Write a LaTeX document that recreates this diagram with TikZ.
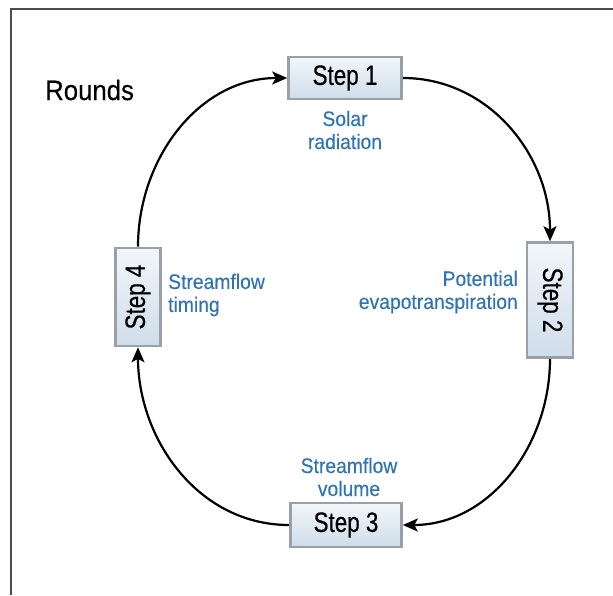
\documentclass[tikz,border=0pt]{standalone}
\usepackage{fontspec}
\setmainfont{Liberation Sans}
\newfontfamily\stepfont[FakeStretch=0.8,FakeBold=0.4]{Liberation Sans}
\newfontfamily\lblfont[FakeStretch=0.92,FakeBold=0.3]{Liberation Sans}
\usetikzlibrary{arrows.meta}
\definecolor{lblblue}{HTML}{2F74B5}
\definecolor{boxtop}{HTML}{F2F6FA}
\definecolor{boxbot}{HTML}{CFDDEA}
\definecolor{bevel}{HTML}{9AA0A8}

\begin{document}
\begin{tikzpicture}[x=1pt, y=-1pt,
  stepbox/.style={draw=bevel, line width=2.6pt, top color=boxtop, bottom color=boxbot,
                  inner sep=0pt, font=\stepfont\fontsize{28}{30}\selectfont},
  lbl/.style={text=lblblue, inner sep=0pt, font=\lblfont\fontsize{21}{23}\selectfont},
  ar/.style={-{Stealth[length=15pt,width=13pt,inset=3.5pt]}, line width=2.2pt, black},
]
\useasboundingbox (0,0) rectangle (613,595);
% frame, only top and left edges show
\draw[black!70, line width=1.5pt] (613,9) -- (11,9) -- (11,595);

\node[anchor=base west, inner sep=0pt, font=\lblfont\fontsize{28}{30}\selectfont] (rnd) at (45,100) {Rounds};

\node[stepbox, minimum width=113pt, minimum height=42pt] (s1) at (345,78) {Step 1};
\node[stepbox, minimum width=46pt, minimum height=115pt] (s2) at (550,300) {\rotatebox{-90}{Step 2}};
\node[stepbox, minimum width=111pt, minimum height=44pt] (s3) at (346,525) {Step 3};
\node[stepbox, minimum width=45pt, minimum height=98pt] (s4) at (138,297) {\rotatebox{90}{Step 4}};

\node[lbl, align=center] (l1) at (345,130) {Solar\\radiation};
\node[lbl, align=right, anchor=east] (l2) at (518,292) {Potential\\evapotranspiration};
\node[lbl, align=center] (l3) at (349,477) {Streamflow\\volume};
\node[lbl, align=left, anchor=west] (l4) at (168,295) {Streamflow\\timing};

\draw[ar] (s1.east) to[out=0, in=90] (s2.north);
\draw[ar] (s2.south) to[out=-90, in=0] (s3.east);
\draw[ar] (s3.west) to[out=180, in=-90] (s4.south);
\draw[ar] (s4.north) to[out=90, in=180] (s1.west);
\end{tikzpicture}
\end{document}
